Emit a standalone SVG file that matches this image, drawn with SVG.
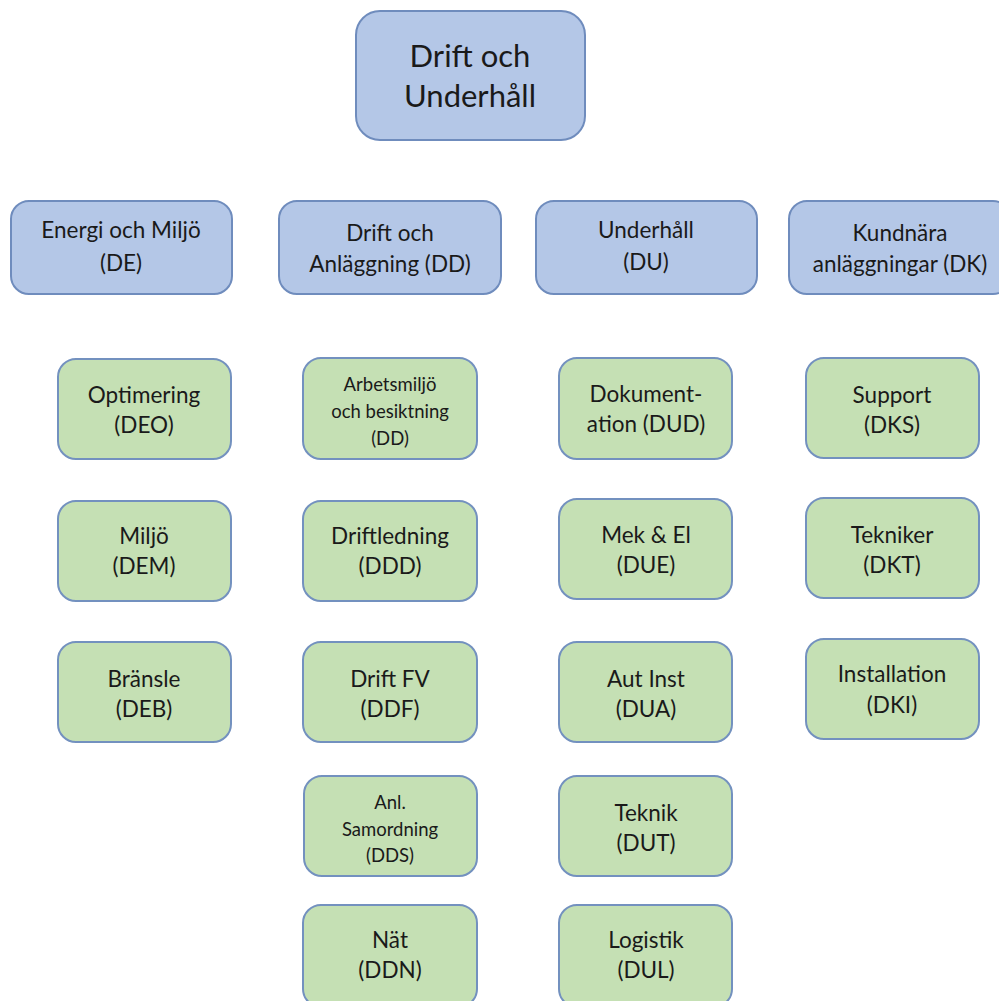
<svg xmlns="http://www.w3.org/2000/svg" width="999" height="1001" viewBox="0 0 999 1001">
<style>
.b{fill:#b4c7e7;stroke:#6f8cbd;stroke-width:2}
.g{fill:#c5e0b4;stroke:#7391bf;stroke-width:2}
text{font-family:Lato,"Open Sans","Liberation Sans",sans-serif;fill:#1a1a1a;text-anchor:middle}
.t0{font-size:31px}
.t1{font-size:22.5px}
.t2{font-size:18.5px}
</style>
<rect width="999" height="1001" fill="#ffffff"/>
<g id="connectors"></g>
<g id="root"><rect class="b" x="356" y="11" width="229" height="129" rx="24"/><text class="t0" x="470" y="67">Drift och</text><text class="t0" x="470" y="107">Underhåll</text></g>
<g id="DE"><rect class="b" x="11" y="201" width="221" height="93" rx="18"/><text class="t1" x="121" y="238">Energi och Miljö</text><text class="t1" x="121" y="271">(DE)</text></g>
<g id="DD"><rect class="b" x="279" y="201" width="222" height="93" rx="18"/><text class="t1" x="390" y="241">Drift och</text><text class="t1" x="390" y="272">Anläggning (DD)</text></g>
<g id="DU"><rect class="b" x="536" y="201" width="221" height="93" rx="18"/><text class="t1" x="646" y="238">Underhåll</text><text class="t1" x="646" y="270">(DU)</text></g>
<g id="DK"><rect class="b" x="789" y="201" width="222" height="93" rx="18"/><text class="t1" x="900" y="241">Kundnära</text><text class="t1" x="900" y="272">anläggningar (DK)</text></g>
<g id="DEO"><rect class="g" x="58" y="359" width="173" height="100" rx="18"/><text class="t1" x="144" y="403">Optimering</text><text class="t1" x="144" y="433">(DEO)</text></g>
<g id="DEM"><rect class="g" x="58" y="501" width="173" height="100" rx="18"/><text class="t1" x="144" y="544">Miljö</text><text class="t1" x="144" y="574">(DEM)</text></g>
<g id="DEB"><rect class="g" x="58" y="642" width="173" height="100" rx="18"/><text class="t1" x="144" y="687">Bränsle</text><text class="t1" x="144" y="717">(DEB)</text></g>
<g id="DDA"><rect class="g" x="303" y="358" width="174" height="101" rx="18"/><text class="t2" x="390" y="391">Arbetsmiljö</text><text class="t2" x="390" y="418">och besiktning</text><text class="t2" x="390" y="445">(DD)</text></g>
<g id="DDD"><rect class="g" x="303" y="501" width="174" height="100" rx="18"/><text class="t1" x="390" y="544">Driftledning</text><text class="t1" x="390" y="574">(DDD)</text></g>
<g id="DDF"><rect class="g" x="303" y="642" width="174" height="100" rx="18"/><text class="t1" x="390" y="687">Drift FV</text><text class="t1" x="390" y="717">(DDF)</text></g>
<g id="DDS"><rect class="g" x="304" y="776" width="173" height="100" rx="18"/><text class="t2" x="390" y="809">Anl.</text><text class="t2" x="390" y="836">Samordning</text><text class="t2" x="390" y="862">(DDS)</text></g>
<g id="DDN"><rect class="g" x="303" y="905" width="174" height="102" rx="18"/><text class="t1" x="390" y="948">Nät</text><text class="t1" x="390" y="978">(DDN)</text></g>
<g id="DUD"><rect class="g" x="559" y="358" width="173" height="101" rx="18"/><text class="t1" x="646" y="402">Dokument-</text><text class="t1" x="646" y="432">ation (DUD)</text></g>
<g id="DUE"><rect class="g" x="559" y="499" width="173" height="100" rx="18"/><text class="t1" x="646" y="543">Mek &amp; El</text><text class="t1" x="646" y="573">(DUE)</text></g>
<g id="DUA"><rect class="g" x="559" y="642" width="173" height="100" rx="18"/><text class="t1" x="646" y="687">Aut Inst</text><text class="t1" x="646" y="717">(DUA)</text></g>
<g id="DUT"><rect class="g" x="559" y="776" width="173" height="100" rx="18"/><text class="t1" x="646" y="821">Teknik</text><text class="t1" x="646" y="851">(DUT)</text></g>
<g id="DUL"><rect class="g" x="559" y="905" width="173" height="102" rx="18"/><text class="t1" x="646" y="948">Logistik</text><text class="t1" x="646" y="978">(DUL)</text></g>
<g id="DKS"><rect class="g" x="806" y="358" width="173" height="100" rx="18"/><text class="t1" x="892" y="403">Support</text><text class="t1" x="892" y="433">(DKS)</text></g>
<g id="DKT"><rect class="g" x="806" y="498" width="173" height="100" rx="18"/><text class="t1" x="892" y="543">Tekniker</text><text class="t1" x="892" y="573">(DKT)</text></g>
<g id="DKI"><rect class="g" x="806" y="639" width="173" height="100" rx="18"/><text class="t1" x="892" y="682">Installation</text><text class="t1" x="892" y="713">(DKI)</text></g>
</svg>
